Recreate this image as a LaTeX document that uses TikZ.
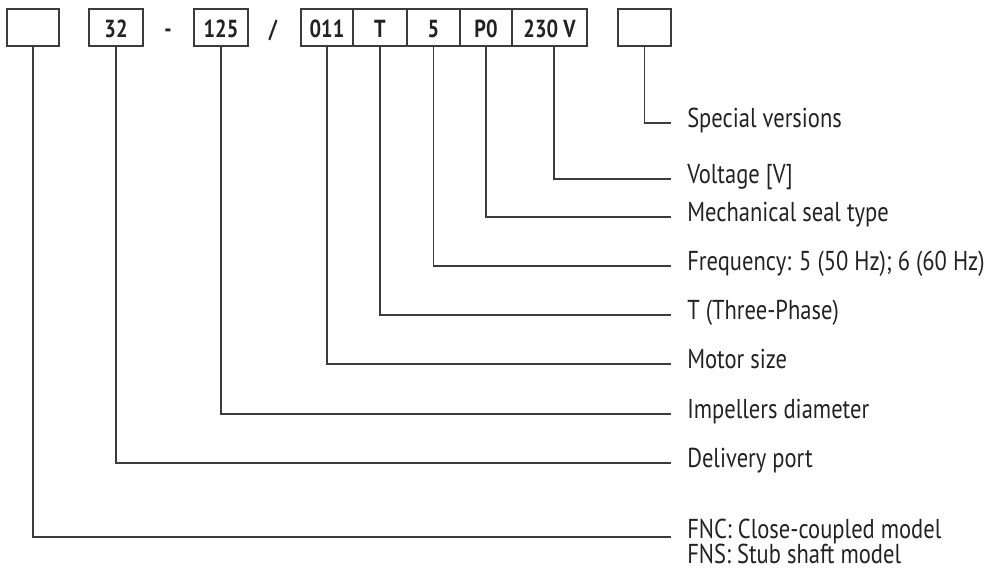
\documentclass[tikz,border=0pt]{standalone}
\usepackage{fontspec}
\setmainfont{PT Sans}[FakeStretch=0.825]
\definecolor{linec}{HTML}{3C3C3C}
\definecolor{txt}{HTML}{222222}
\newcommand\labfont{\fontsize{20.5}{24}\selectfont}
\newcommand\boxfont{\fontsize{18.5}{22}\selectfont\bfseries}
\begin{document}
\begin{tikzpicture}[x=0.75pt,y=-0.75pt,
  box/.style={draw=linec, line width=0.9pt, minimum height=27.75pt, inner sep=0pt,
    text=txt, font=\boxfont, text height=15.6pt, text depth=0pt},
  sep/.style={inner sep=0pt, text=txt, font=\boxfont, text height=15.6pt, text depth=0pt},
  lab/.style={anchor=west, inner xsep=12pt, inner ysep=0pt, text=txt, font=\labfont,
    text height=0.9em, text depth=0.2em},
  conn/.style={draw=linec, line width=0.9pt}]
\useasboundingbox (0,0) rectangle (985,571);
% code boxes
\node[box, minimum width=39pt]    (b1) at (33,27.5) {};
\node[box, minimum width=40.5pt]  (b2) at (116,27.5) {32};
\node[sep] (d1) at (168,27.5) {-};
\node[box, minimum width=40.5pt]  (b3) at (221,27.5) {125};
\node[sep] (d2) at (273,27.5) {/};
\node[box, minimum width=39pt]    (b4) at (327,27.5) {011};
\node[box, minimum width=40.5pt]  (b5) at (380,27.5) {T};
\node[box, minimum width=39.75pt] (b6) at (433.5,27.5) {5};
\node[box, minimum width=39pt]    (b7) at (486,27.5) {P0};
\node[box, minimum width=56.25pt] (b8) at (549.5,27.5) {230 V};
\node[box, minimum width=39.75pt] (b9) at (644.5,27.5) {};
% labels
\node[lab] (l9) at (671,123) {Special versions};
\node[lab] (l8) at (671,179) {Voltage [V]};
\node[lab] (l7) at (671,217) {Mechanical seal type};
\node[lab] (l6) at (671,266) {Frequency: 5 (50 Hz); 6 (60 Hz)};
\node[lab] (l5) at (671,315) {T (Three-Phase)};
\node[lab] (l4) at (671,364) {Motor size};
\node[lab] (l3) at (671,414) {Impellers diameter};
\node[lab] (l2) at (671,463) {Delivery port};
\node[lab] (l1a) at (671,534) {FNC: Close-coupled model};
\node[lab] (l1b) at (671,559) {FNS: Stub shaft model};
\coordinate (e1) at (671,537);
% connectors
\draw[conn] (b9.south) |- (l9.west);
\draw[conn] ([xshift=3.4pt]b8.south) |- (l8.west);
\draw[conn] (b7.south) |- (l7.west);
\draw[conn] (b6.south) |- (l6.west);
\draw[conn] (b5.south) |- (l5.west);
\draw[conn] (b4.south) |- (l4.west);
\draw[conn] (b3.south) |- (l3.west);
\draw[conn] (b2.south) |- (l2.west);
\draw[conn] (b1.south) |- (e1);
\end{tikzpicture}
\end{document}
